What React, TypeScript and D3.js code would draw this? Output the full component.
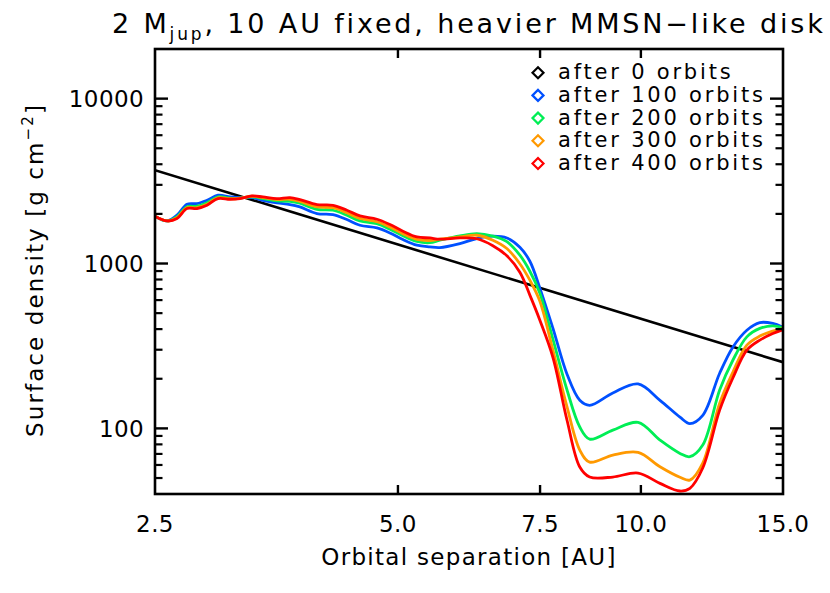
import React from 'react';
import * as d3 from 'd3';

// Orbital separation [AU] sample positions shared by all evolved profiles
const RADIUS = [2.5, 2.587, 2.662, 2.739, 2.818, 2.9, 2.992, 3.096, 3.186, 3.297, 3.401, 3.54, 3.674, 3.78, 3.968, 4.154, 4.322, 4.486, 4.709, 4.887, 5.071, 5.278, 5.477, 5.636, 5.967, 6.262, 6.555, 6.822, 7.08, 7.285, 7.496, 7.78, 8.1, 8.4, 8.64, 9.23, 9.92, 10.56, 11.18, 11.5, 11.93, 12.52, 13.0, 13.53, 14.04, 14.57, 15.0];

// Surface density [g cm^-2]
const ORBITS_100 = [1936, 1812, 1963, 2288, 2310, 2419, 2594, 2533, 2512, 2512, 2419, 2329, 2278, 2203, 2010, 1982, 1848, 1707, 1644, 1533, 1398, 1291, 1261, 1250, 1322, 1417, 1464, 1429, 1256, 1032, 709, 405, 213, 148, 138, 164, 186, 148, 117, 107, 120, 216, 311, 394, 438, 433, 411];
const ORBITS_200 = [1936, 1812, 1922, 2209, 2225, 2336, 2540, 2488, 2495, 2540, 2477, 2402, 2386, 2320, 2133, 2104, 1963, 1812, 1743, 1614, 1474, 1361, 1337, 1384, 1470, 1516, 1464, 1356, 1123, 898, 661, 348, 171, 102, 86.1, 97.7, 108.7, 84.9, 70.5, 67.3, 79.2, 171, 259, 359, 404, 419, 408];
const ORBITS_300 = [1936, 1812, 1895, 2179, 2179, 2288, 2505, 2470, 2488, 2558, 2512, 2443, 2453, 2379, 2209, 2179, 2032, 1877, 1792, 1665, 1516, 1400, 1379, 1404, 1449, 1484, 1384, 1233, 997, 792, 591, 298, 135, 73.9, 62.5, 68.9, 71.5, 58.5, 50.5, 48.6, 61.6, 142, 219, 320, 363, 389, 403];
const ORBITS_400 = [1936, 1812, 1874, 2154, 2154, 2256, 2477, 2453, 2477, 2569, 2533, 2477, 2512, 2443, 2278, 2256, 2104, 1944, 1856, 1723, 1570, 1449, 1429, 1404, 1429, 1413, 1282, 1115, 886, 643, 453, 270, 112, 58.3, 50.7, 50.7, 53.6, 46.4, 41.7, 43.3, 57.5, 129, 202, 298, 343, 376, 397];

// Initial power-law profile (after 0 orbits)
const RADIUS_0 = [2.5, 15.0];
const ORBITS_0 = [3680, 252];

const X_TICKS = [2.5, 5.0, 7.5, 10.0, 15.0];
const Y_TICKS = [100, 1000, 10000];
const LEGEND_LABELS = ['after 0 orbits', 'after 100 orbits', 'after 200 orbits', 'after 300 orbits', 'after 400 orbits'];
const COLORS = ['#000000', '#0050ff', '#00ee55', '#ff9900', '#ff0000'];

const W = 830;
const H = 593;
const PL = 155, PR = 783, PT = 49, PB = 494;
const FONT = '"DejaVu Sans", sans-serif';

export default function App() {
  const x = d3.scaleLog().domain([2.5, 15]).range([PL, PR]);
  const y = d3.scaleLog().domain([40, 20000]).range([PB, PT]);

  const line = d3
    .line<[number, number]>()
    .x((d) => x(d[0]))
    .y((d) => y(d[1]))
    .curve(d3.curveCatmullRom.alpha(0.5));
  const straight = d3
    .line<[number, number]>()
    .x((d) => x(d[0]))
    .y((d) => y(d[1]));

  const series = [ORBITS_100, ORBITS_200, ORBITS_300, ORBITS_400];
  const blackPts = RADIUS_0.map((r, i) => [r, ORBITS_0[i]] as [number, number]);

  const allY = y.ticks();
  const minorY = allY.filter((v) => !Y_TICKS.includes(v) && v > 40 && v < 20000);
  const innerX = X_TICKS.filter((v) => v > 2.5 && v < 15);

  const majLen = 13, minLen = 7.5, xLen = 9;

  return (
    <svg width={W} height={H} style={{ position: 'absolute', left: 0, top: 0, background: '#fff' }} fontFamily={FONT}>
      <rect x={0} y={0} width={W} height={H} fill="#fff" />
      {/* title */}
      <text x={112} y={33} fontSize={27} letterSpacing={2.85} fill="#000">
        2 M<tspan fontSize={17} dy={7}>jup</tspan>
        <tspan dy={-7}>, 10 AU fixed, heavier MMSN−like disk</tspan>
      </text>

      <defs>
        <clipPath id="clip">
          <rect x={PL} y={PT} width={PR - PL} height={PB - PT} />
        </clipPath>
      </defs>

      {/* curves */}
      <g clipPath="url(#clip)">
        <path d={straight(blackPts) || ''} fill="none" stroke={COLORS[0]} strokeWidth={2.6} />
        {series.map((s, i) => (
          <path
            key={i}
            d={line(RADIUS.map((r, j) => [r, s[j]] as [number, number])) || ''}
            fill="none"
            stroke={COLORS[i + 1]}
            strokeWidth={2.8}
            strokeLinejoin="round"
          />
        ))}
      </g>

      {/* frame */}
      <rect x={PL} y={PT} width={PR - PL} height={PB - PT} fill="none" stroke="#000" strokeWidth={2.6} />

      {/* y ticks */}
      {Y_TICKS.map((v) => (
        <g key={'yt' + v}>
          <line x1={PL} x2={PL + majLen} y1={y(v)} y2={y(v)} stroke="#000" strokeWidth={2.4} />
          <line x1={PR} x2={PR - majLen} y1={y(v)} y2={y(v)} stroke="#000" strokeWidth={2.4} />
          <text x={144} y={y(v) + 8.5} fontSize={23} textAnchor="end" letterSpacing={0.4} fill="#000">
            {String(v)}
          </text>
        </g>
      ))}
      {minorY.map((v) => (
        <g key={'ym' + v}>
          <line x1={PL} x2={PL + minLen} y1={y(v)} y2={y(v)} stroke="#000" strokeWidth={2.2} />
          <line x1={PR} x2={PR - minLen} y1={y(v)} y2={y(v)} stroke="#000" strokeWidth={2.2} />
        </g>
      ))}

      {/* x ticks */}
      {innerX.map((v) => (
        <g key={'xt' + v}>
          <line x1={x(v)} x2={x(v)} y1={PB} y2={PB - xLen} stroke="#000" strokeWidth={2.4} />
          <line x1={x(v)} x2={x(v)} y1={PT} y2={PT + xLen} stroke="#000" strokeWidth={2.4} />
        </g>
      ))}
      {X_TICKS.map((v) => (
        <text key={'xl' + v} x={x(v)} y={532} fontSize={23} textAnchor="middle" letterSpacing={0.4} fill="#000">
          {v.toFixed(1)}
        </text>
      ))}

      {/* axis titles */}
      <text x={469} y={565} fontSize={23} textAnchor="middle" letterSpacing={1.3} fill="#000">
        Orbital separation [AU]
      </text>
      <text transform="translate(43,270) rotate(-90)" fontSize={23} textAnchor="middle" letterSpacing={2.1} fill="#000">
        Surface density [g cm<tspan fontSize={15} dy={-10}>−2</tspan>
        <tspan dy={10}>]</tspan>
      </text>

      {/* legend */}
      {LEGEND_LABELS.map((lab, i) => {
        const cy = 72.7 + i * 22.7;
        const s = 5.5;
        return (
          <g key={'lg' + i}>
            <path
              d={`M${538 - s},${cy} L${538},${cy - s} L${538 + s},${cy} L${538},${cy + s} Z`}
              fill="none"
              stroke={COLORS[i]}
              strokeWidth={2.2}
            />
            <text x={558} y={cy + 6.5} fontSize={21} letterSpacing={2.8} fill="#000">
              {lab}
            </text>
          </g>
        );
      })}
    </svg>
  );
}
